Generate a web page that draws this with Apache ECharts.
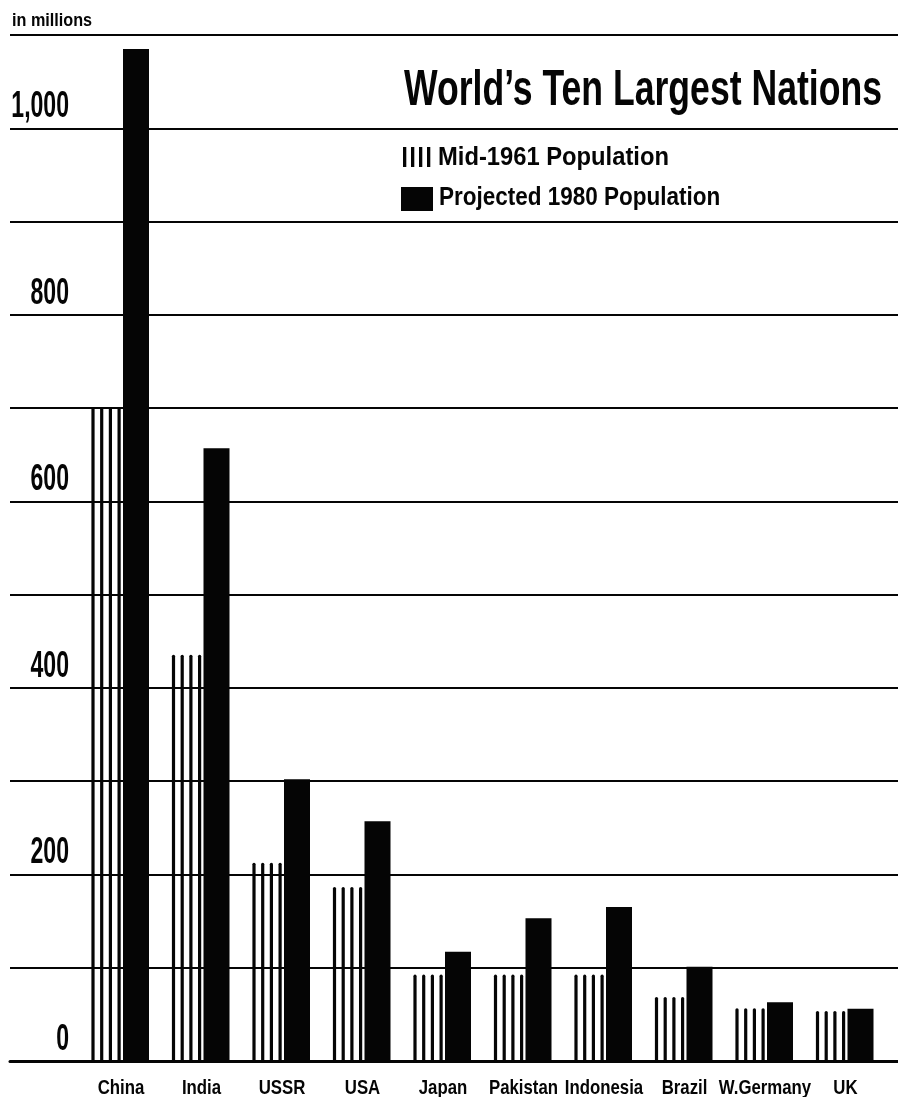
<!DOCTYPE html>
<html>
<head>
<meta charset="utf-8">
<script src="https://cdn.jsdelivr.net/npm/echarts@6/dist/echarts.min.js"></script>
<style>
  html, body { margin: 0; padding: 0; background: #fff; }
  #chart { width: 898px; height: 1097px; }
</style>
</head>
<body>
<div id="chart"></div>
<script>
// Population in millions
const countries = ['China', 'India', 'USSR', 'USA', 'Japan', 'Pakistan', 'Indonesia', 'Brazil', 'W.Germany', 'UK'];
const pop1961 = [700, 435, 212, 186, 92, 92, 92, 68, 56, 53];
const pop1980 = [1085, 657, 302, 257, 117, 153, 165, 101, 63, 56];
const yTickValues = [0, 200, 400, 600, 800, 1000];
const yTickLabels = ['0', '200', '400', '600', '800', '1,000'];

const INK = '#050505';
const FAMILY = '"Liberation Sans", Arial, sans-serif';

const chart = echarts.init(document.getElementById('chart'), null, { renderer: 'canvas' });

// Mid-1961: four thin vertical strokes per country
function render1961(params, api) {
  const idx = api.value(0);
  const base = api.coord([idx, 0]);
  const top = api.coord([idx, api.value(1)]);
  const k = api.size([1, 0])[0] / 80.5;
  const children = [];
  for (let j = 0; j < 4; j++) {
    const x = base[0] + (-28 + j * 8.7) * k;
    children.push({
      type: 'line',
      shape: { x1: x, y1: base[1], x2: x, y2: top[1] + 1 },
      style: { stroke: INK, lineWidth: 3.2, lineCap: 'round' }
    });
  }
  return { type: 'group', children };
}

// Projected 1980: solid black bar
function render1980(params, api) {
  const idx = api.value(0);
  const base = api.coord([idx, 0]);
  const top = api.coord([idx, api.value(1)]);
  const k = api.size([1, 0])[0] / 80.5;
  return {
    type: 'rect',
    shape: { x: base[0] + 2 * k, y: top[1], width: 26 * k, height: base[1] - top[1] },
    style: { fill: INK }
  };
}

// Country names under each pair of bars
function renderCountry(params, api) {
  const p = api.coord([api.value(0), 0]);
  return {
    type: 'text',
    x: p[0], y: p[1] + 27,
    scaleX: 0.8,
    style: {
      text: countries[params.dataIndex],
      font: 'bold 21px ' + FAMILY,
      fill: INK, align: 'center', verticalAlign: 'middle'
    }
  };
}

// Value labels sitting just above their grid lines
function renderYLabel(params, api) {
  const p = api.coord([0, api.value(1)]);
  return {
    type: 'text',
    x: p[0] + 59, y: p[1] - 21,
    scaleX: 0.64,
    style: {
      text: yTickLabels[params.dataIndex],
      font: 'bold 36px ' + FAMILY,
      fill: INK, align: 'right', verticalAlign: 'middle'
    }
  };
}

// Legend key: four strokes for the 1961 series
const stripeKey = [0, 1, 2, 3].map(j => ({
  type: 'rect',
  shape: { x: 403 + j * 8, y: 147, width: 3.3, height: 20 },
  style: { fill: INK }
}));

const option = {
  animation: false,
  backgroundColor: '#fff',
  grid: [
    { left: 10, right: 0, top: 35, bottom: 36 },
    { left: 80.75, right: 12.25, top: 35, bottom: 36 }
  ],
  xAxis: [
    {
      gridIndex: 0, type: 'value', min: 0, max: 1,
      axisLine: { show: true, onZero: false, lineStyle: { color: INK, width: 3 } },
      axisTick: { show: false }, axisLabel: { show: false }, splitLine: { show: false }
    },
    {
      gridIndex: 1, type: 'category', data: countries,
      axisLine: { show: false }, axisTick: { show: false }, axisLabel: { show: false }, splitLine: { show: false }
    }
  ],
  yAxis: [
    {
      gridIndex: 0, type: 'value', min: 0, max: 1100, interval: 100,
      axisLine: { show: false }, axisTick: { show: false }, axisLabel: { show: false },
      splitLine: { show: true, lineStyle: { color: INK, width: 2 } }
    },
    {
      gridIndex: 1, type: 'value', min: 0, max: 1100, interval: 100, show: false,
      splitLine: { show: false }
    }
  ],
  series: [
    {
      name: 'Mid-1961 Population', type: 'custom', xAxisIndex: 1, yAxisIndex: 1,
      renderItem: render1961,
      data: pop1961.map((v, i) => [i, v])
    },
    {
      name: 'Projected 1980 Population', type: 'custom', xAxisIndex: 1, yAxisIndex: 1,
      renderItem: render1980,
      data: pop1980.map((v, i) => [i, v])
    },
    {
      name: 'countries', type: 'custom', xAxisIndex: 1, yAxisIndex: 1, clip: false,
      renderItem: renderCountry,
      data: countries.map((c, i) => [i, 0])
    },
    {
      name: 'yLabels', type: 'custom', xAxisIndex: 0, yAxisIndex: 0, clip: false,
      renderItem: renderYLabel,
      data: yTickValues.map(v => [0, v])
    }
  ],
  graphic: [
    {
      type: 'text', x: 12, y: 21, scaleX: 0.9,
      style: { text: 'in millions', font: 'bold 18px ' + FAMILY, fill: INK, verticalAlign: 'middle' }
    },
    {
      type: 'text', x: 882, y: 91, scaleX: 0.712,
      style: { text: 'World\u2019s Ten Largest Nations', font: 'bold 50px ' + FAMILY, fill: INK, align: 'right', verticalAlign: 'middle' }
    },
    ...stripeKey,
    {
      type: 'text', x: 438, y: 158, scaleX: 0.95,
      style: { text: 'Mid-1961 Population', font: 'bold 25px ' + FAMILY, fill: INK, verticalAlign: 'middle' }
    },
    // legend key: solid block for the 1980 series
    { type: 'rect', shape: { x: 401, y: 187, width: 32, height: 24 }, style: { fill: INK } },
    {
      type: 'text', x: 439, y: 198, scaleX: 0.9,
      style: { text: 'Projected 1980 Population', font: 'bold 25px ' + FAMILY, fill: INK, verticalAlign: 'middle' }
    }
  ]
};

chart.setOption(option);
</script>
</body>
</html>
